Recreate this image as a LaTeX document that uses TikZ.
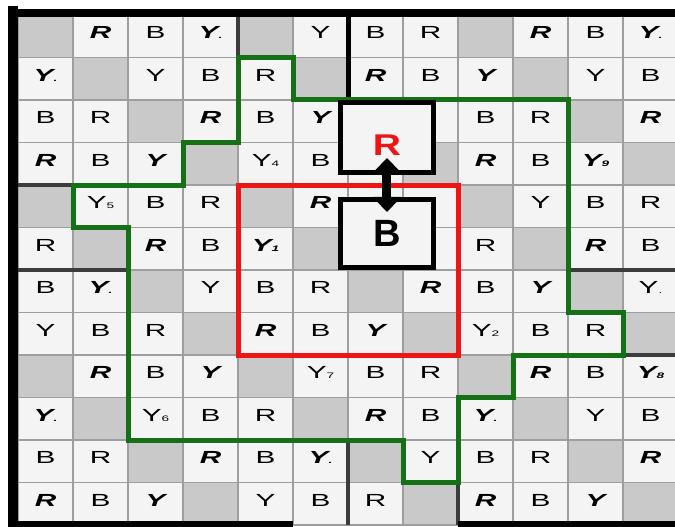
\documentclass[tikz,border=0pt]{standalone}
\usepackage{fontspec}
\setmainfont{Liberation Sans}
\usepackage{graphicx}
\usetikzlibrary{arrows.meta, positioning}

\definecolor{cellwhite}{RGB}{244,244,244}
\definecolor{cellgray}{RGB}{201,201,201}
\definecolor{gridgray}{RGB}{158,158,158}
\definecolor{blockdark}{RGB}{60,60,60}
\definecolor{loopgreen}{RGB}{22,112,22}
\definecolor{boxred}{RGB}{236,22,22}

\newcommand{\wide}[1]{\scalebox{1.7}[1]{#1}}
\newcommand{\sbs}[1]{{\fontsize{8}{8}\selectfont #1}}
% one cell of the board: gray, plain letter, bold italic letter
\newcommand{\gc}{\fill[graycell] (\j,\i) rectangle ++(1,1);}
\newcommand{\pl}[2][]{\node[celltext] (t-\i-\j) at (\j+.5,\i+.5) {\wide{#2\sbs{#1}}};}
\newcommand{\bx}[2][]{\node[celltext] (t-\i-\j) at (\j+.5,\i+.5) {\wide{\bfseries\itshape #2\sbs{#1}}};}

\tikzset{
  whitecell/.style={fill=cellwhite},
  graycell/.style={fill=cellgray},
  celltext/.style={inner sep=0pt, yshift=3.5pt, font=\fontsize{17.5}{20}\selectfont},
  gridline/.style={gridgray, line width=1.5pt},
  blockline/.style={blockdark, line width=4pt},
  frameline/.style={black, line width=8pt},
  loopline/.style={loopgreen, line width=5pt},
  swapbox/.style={draw=black, fill=cellwhite, line width=5pt, minimum width=93pt, minimum height=70pt, inner sep=0pt},
}

\begin{document}
\begin{tikzpicture}[x=55pt, y=-42.5pt]
  \useasboundingbox (-18pt,15pt) rectangle (657pt,-512pt);
  \fill[white] (-18pt,15pt) rectangle (657pt,-512pt);

  % board
  \foreach \cells [count=\i from 0] in {
    {\gc, \bx{R}, \pl{B}, \bx[.]{Y}, \gc, \pl{Y}, \pl{B}, \pl{R}, \gc, \bx{R}, \pl{B}, \bx[.]{Y}},
    {\bx[.]{Y}, \gc, \pl{Y}, \pl{B}, \pl{R}, \gc, \bx{R}, \pl{B}, \bx{Y}, \gc, \pl{Y}, \pl{B}},
    {\pl{B}, \pl{R}, \gc, \bx{R}, \pl{B}, \bx{Y}, {}, {}, \pl{B}, \pl{R}, \gc, \bx{R}},
    {\bx{R}, \pl{B}, \bx{Y}, \gc, \pl[4]{Y}, \pl{B}, {}, \gc, \bx{R}, \pl{B}, \bx[9]{Y}, \gc},
    {\gc, \pl[5]{Y}, \pl{B}, \pl{R}, \gc, \bx{R}, {}, {}, \gc, \pl{Y}, \pl{B}, \pl{R}},
    {\pl{R}, \gc, \bx{R}, \pl{B}, \bx[1]{Y}, \gc, {}, {}, \pl{R}, \gc, \bx{R}, \pl{B}},
    {\pl{B}, \bx[.]{Y}, \gc, \pl{Y}, \pl{B}, \pl{R}, \gc, \bx{R}, \pl{B}, \bx{Y}, \gc, \pl[.]{Y}},
    {\pl{Y}, \pl{B}, \pl{R}, \gc, \bx{R}, \pl{B}, \bx{Y}, \gc, \pl[2]{Y}, \pl{B}, \pl{R}, \gc},
    {\gc, \bx{R}, \pl{B}, \bx{Y}, \gc, \pl[7]{Y}, \pl{B}, \pl{R}, \gc, \bx{R}, \pl{B}, \bx[8]{Y}},
    {\bx[.]{Y}, \gc, \pl[6]{Y}, \pl{B}, \pl{R}, \gc, \bx{R}, \pl{B}, \bx[.]{Y}, \gc, \pl{Y}, \pl{B}},
    {\pl{B}, \pl{R}, \gc, \bx{R}, \pl{B}, \bx[.]{Y}, \gc, \pl{Y}, \pl{B}, \pl{R}, \gc, \bx{R}},
    {\bx{R}, \pl{B}, \bx{Y}, \gc, \pl{Y}, \pl{B}, \pl{R}, \gc, \bx{R}, \pl{B}, \bx{Y}, \gc}%
  }{
    \foreach \cell [count=\j from 0] in \cells {
      \fill[whitecell] (\j,\i) rectangle ++(1,1);
      \cell
    }
  }
  \foreach \k in {0,...,12} {
    \draw[gridline] (\k,0) -- (\k,12);
    \draw[gridline] (0,\k) -- (12,\k);
  }

  % block borders
  \draw[blockline] (4,0) -- (4,1);
  \draw[blockline] (0,4) -- (1,4);
  \draw[blockline] (0,6) -- (2,6);
  \draw[blockline] (10,6) -- (12,6);
  \draw[blockline] (11,8) -- (12,8);
  \draw[blockline] (6,10) -- (6,12);
  \draw[blockline] (8,11) -- (8,12);
  \draw[frameline, line width=5pt] (6,-0.1) -- (6,2);
  \draw[frameline] (-0.18,-0.05) -- (12.1,-0.05);
  \draw[frameline, line width=10pt] (-0.09,-0.2) -- (-0.09,12.1);
  \draw[frameline, line width=6pt] (-0.18,11.98) -- (5,11.98);
  \draw[frameline, line width=6pt] (8,11.98) -- (12.1,11.98);

  % regions
  \draw[boxred, line width=5pt] (4,4) rectangle (8,8);
  \draw[loopline] (4,1) -- (5,1) -- (5,2) -- (10,2) -- (10,7) -- (11,7) -- (11,8)
    -- (9,8) -- (9,9) -- (8,9) -- (8,11) -- (7,11) -- (7,10) -- (2,10) -- (2,5)
    -- (1,5) -- (1,4) -- (3,4) -- (3,3) -- (4,3) -- cycle;

  % swap
  \node[swapbox] (rbox) at (6.709,2.882) {};
  \node[swapbox, minimum height=68pt, below=22pt of rbox] (bbox) {};
  \node[inner sep=0pt, text=boxred, font=\bfseries\fontsize{30}{30}\selectfont] (rlab) at (6.709,3.059) {\scalebox{1.3}[1]{R}};
  \node[inner sep=0pt, font=\bfseries\fontsize{38}{38}\selectfont] (blab) at (bbox) {B};
  \coordinate[above=17pt of rbox.south] (uptip);
  \coordinate[below=15pt of bbox.north] (dntip);
  \draw[line width=9pt, {Triangle[width=28pt,length=15pt]}-{Triangle[width=28pt,length=15pt]}] (uptip) -- (dntip);
\end{tikzpicture}
\end{document}
